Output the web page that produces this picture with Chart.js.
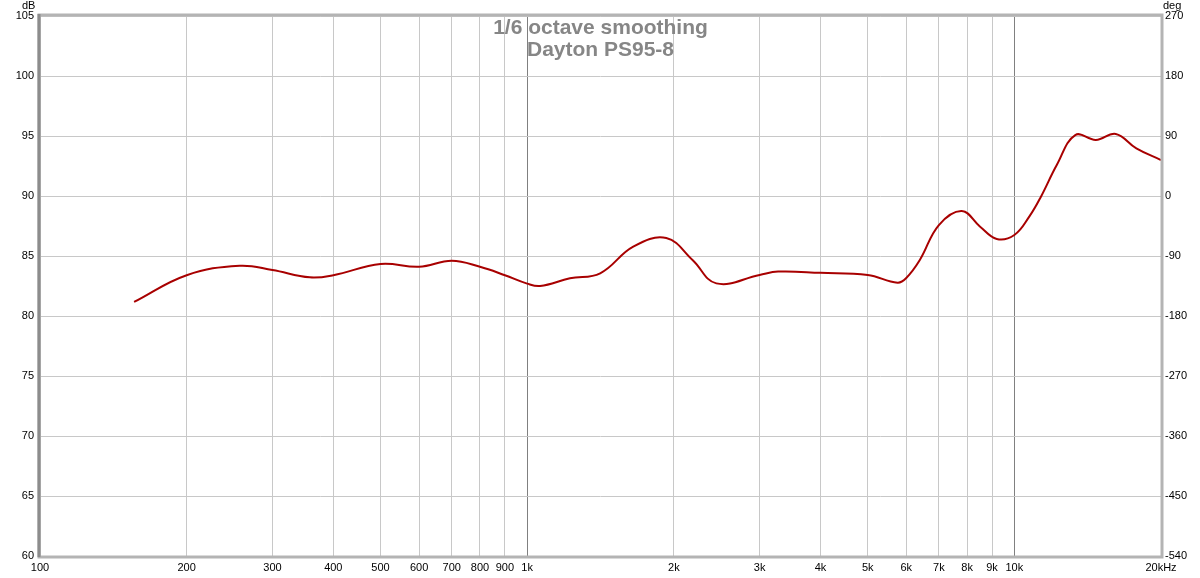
<!DOCTYPE html>
<html>
<head>
<meta charset="utf-8">
<script src="https://cdn.jsdelivr.net/npm/chart.js@4.4.0/dist/chart.umd.min.js"></script>
<style>
  html, body { margin: 0; padding: 0; background: #fff; }
  #wrap { width: 1200px; height: 578px; }
</style>
</head>
<body>
<div id="wrap"><canvas id="fr"></canvas></div>
<script>
const titleLines = ["1/6 octave smoothing", "Dayton PS95-8"];

// frequency (Hz) and SPL (dB)
const freqs = [156, 200, 257, 300, 358, 400, 500, 600, 700, 800, 900, 1000, 1063, 1224, 1412,
  1651, 1930, 2185, 2445, 3000, 3274, 4000, 5000, 5758, 6000, 6397, 7000, 7800,
  8507, 9202, 10000, 10730, 11340, 12220, 13335, 14700, 16150, 17800, 20000];
const spl = [81.17, 83.4, 84.19, 83.83, 83.22, 83.4, 84.33, 84.1, 84.6, 84.1, 83.4, 82.7, 82.5, 83.14, 83.56,
  85.78, 86.5, 84.67, 82.72, 83.42, 83.7, 83.6, 83.42, 82.78, 83.17, 84.67, 87.58, 88.75,
  87.44, 86.42, 86.75, 88.28, 89.94, 92.58, 95.08, 94.67, 95.17, 93.97, 93.0];

const xTicks = [100, 200, 300, 400, 500, 600, 700, 800, 900, 1000, 2000, 3000, 4000, 5000,
  6000, 7000, 8000, 9000, 10000, 20000];
const xLabels = ["100", "200", "300", "400", "500", "600", "700", "800", "900", "1k", "2k", "3k",
  "4k", "5k", "6k", "7k", "8k", "9k", "10k", "20kHz"];
const dbRange = [60, 105];
const degRange = [-540, 270];

const tickFont = { family: "'Liberation Sans', Arial, sans-serif", size: 11 };

// title, unit labels and the grey frame round the plot
const decor = {
  id: "decor",
  afterDraw(chart) {
    const { ctx, chartArea: a } = chart;
    ctx.save();
    ctx.strokeStyle = "#b4b4b4";
    ctx.lineWidth = 3;
    ctx.strokeRect(a.left - 1, a.top - 1, a.right - a.left + 2, a.bottom - a.top + 2);
    ctx.strokeStyle = "#8c8c8c";
    ctx.beginPath();
    ctx.moveTo(a.left - 1, a.top - 2);
    ctx.lineTo(a.left - 1, a.bottom + 1);
    ctx.stroke();

    ctx.fillStyle = "#868686";
    ctx.font = "bold 21px 'Liberation Sans', Arial, sans-serif";
    ctx.textAlign = "center";
    ctx.textBaseline = "middle";
    const cx = (a.left + a.right) / 2;
    ctx.fillText(titleLines[0], cx, 28);
    ctx.fillText(titleLines[1], cx, 50);

    ctx.fillStyle = "#000";
    ctx.font = "11px 'Liberation Sans', Arial, sans-serif";
    ctx.textAlign = "left";
    ctx.fillText("dB", 22, 6);
    ctx.fillText("deg", 1163, 6);
    ctx.restore();
  }
};

new Chart(document.getElementById("fr"), {
  type: "line",
  data: {
    datasets: [{
      data: freqs.map((f, i) => ({ x: f, y: spl[i] })),
      borderColor: "#a80000",
      borderWidth: 2,
      pointRadius: 0,
      tension: 0.4,
      yAxisID: "y"
    }]
  },
  options: {
    responsive: true,
    maintainAspectRatio: false,
    animation: false,
    layout: { padding: { top: 16, left: 0, right: 0, bottom: 0 } },
    plugins: { legend: { display: false }, tooltip: { enabled: false } },
    scales: {
      x: {
        type: "logarithmic",
        min: 100,
        max: 20000,
        afterBuildTicks: s => { s.ticks = xTicks.map(v => ({ value: v })); },
        afterFit: s => { s.height = 22; },
        ticks: {
          autoSkip: false,
          maxRotation: 0,
          padding: 5,
          color: "#000",
          font: tickFont,
          callback: (v) => xLabels[xTicks.indexOf(v)] ?? ""
        },
        grid: {
          drawTicks: false,
          color: c => (c.tick && (c.tick.value === 1000 || c.tick.value === 10000)) ? "#808080" : "#c8c8c8"
        },
        border: { display: false }
      },
      y: {
        position: "left",
        min: dbRange[0],
        max: dbRange[1],
        afterFit: s => { s.width = 40; },
        ticks: { stepSize: 5, padding: 6, color: "#000", font: tickFont },
        grid: { drawTicks: false, color: "#c8c8c8" },
        border: { display: false }
      },
      y2: {
        position: "right",
        min: degRange[0],
        max: degRange[1],
        afterFit: s => { s.width = 39; },
        ticks: { stepSize: 90, padding: 4, color: "#000", font: tickFont },
        grid: { display: false, drawTicks: false },
        border: { display: false }
      }
    }
  },
  plugins: [decor]
});
</script>
</body>
</html>
